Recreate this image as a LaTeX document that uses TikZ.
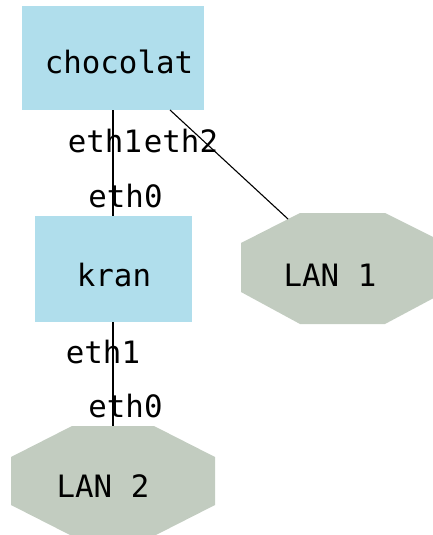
\documentclass[tikz,border=0pt]{standalone}
\usepackage{fontspec}
\setmonofont{DejaVu Sans Mono}
\definecolor{nodeblue}{HTML}{B0DEEC}
\definecolor{langray}{HTML}{C2CCC0}
\begin{document}
\begin{tikzpicture}[x=0.5pt,y=-0.5pt,
  hostbox/.style={fill=nodeblue, draw=none, inner sep=0},
  lanshape/.style={fill=langray, draw=none},
  lbl/.style={font=\ttfamily\fontsize{15.4}{18}\selectfont, inner sep=0, anchor=base, text=black},
  link/.style={draw=black, line width=0.55pt}]
\useasboundingbox (0,0) rectangle (433,535);
\clip (0,0) rectangle (433,535);
% hosts
\node[hostbox, minimum width=91pt, minimum height=52pt] (chocolat) at (113,58) {};
\node[hostbox, minimum width=78.5pt, minimum height=53pt] (kran) at (113,269) {};
% LANs
\fill[lanshape] (241,243) -- (300,213) -- (385,213) -- (445,243) -- (445,292) -- (385,324) -- (300,324) -- (241,292) -- cycle;
\fill[lanshape] (11,457) -- (72,426) -- (154,426) -- (215,457) -- (215,505) -- (154,536) -- (72,536) -- (11,505) -- cycle;
% texts
\node[lbl] (tchocolat) at (119,74) {chocolat};
\node[lbl] (tkran) at (114,286) {kran};
\node[lbl] (tlan1) at (330,286) {LAN 1};
\node[lbl] (tlan2) at (103,497) {LAN 2};
% connector ends
\coordinate (chocoR) at (170,110);
\coordinate (lan1top) at (288,219);
\coordinate (lan2top) at (113,426);
% connectors
\draw[link] (chocolat.south) -- (kran.north);
\draw[link] (chocoR) -- (lan1top);
\draw[link] (kran.south) -- (lan2top);
% interface labels
\node[lbl] (e1a) at (105,152) {eth1};
\node[lbl] (e2a) at (181,152) {eth2};
\node[lbl] (e0a) at (125.5,207) {eth0};
\node[lbl] (e1b) at (103,363) {eth1};
\node[lbl] (e0b) at (125.5,417) {eth0};
\end{tikzpicture}
\end{document}
